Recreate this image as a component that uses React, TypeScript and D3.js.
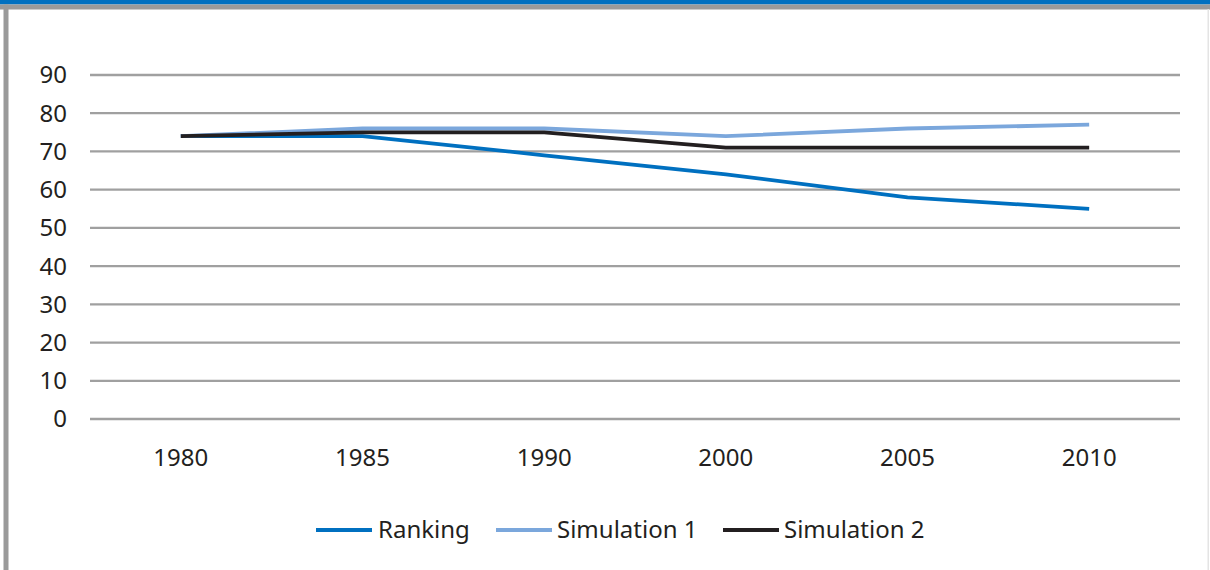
import React from "react";
import * as d3 from "d3";

const categories = ["1980", "1985", "1990", "2000", "2005", "2010"];
const ranking = [74, 74, 69, 64, 58, 55];
const simulation1 = [74, 76, 76, 74, 76, 77];
const simulation2 = [74, 75, 75, 71, 71, 71];
const yTicks = [0, 10, 20, 30, 40, 50, 60, 70, 80, 90];

const seriesList = [
  { name: "Ranking", values: ranking, color: "#0070c0" },
  { name: "Simulation 1", values: simulation1, color: "#7ba7dc" },
  { name: "Simulation 2", values: simulation2, color: "#231f20" },
];

const W = 1210;
const H = 570;
const font = "'Noto Sans', 'Open Sans', sans-serif";

export default function App() {
  const x = d3.scaleBand<string>().domain(categories).range([90, 1180]);
  const y = d3.scaleLinear().domain([0, 90]).range([419, 75]);
  const line = d3
    .line<number>()
    .x((_, i) => (x(categories[i]) as number) + x.bandwidth() / 2)
    .y((v) => y(v));

  const legendItems = [
    { lx: 316, tx: 378 },
    { lx: 496, tx: 557 },
    { lx: 723, tx: 784 },
  ];
  const legendY = 530;

  return (
    <svg
      width={W}
      height={H}
      style={{ position: "absolute", left: 0, top: 0, display: "block" }}
    >
      <rect x={0} y={0} width={W} height={H} fill="#ffffff" />
      <rect x={0} y={0} width={W} height={4.5} fill="#0070c0" />
      <rect x={0} y={4.5} width={W} height={5} fill="#9a9a9a" />
      <rect x={3.5} y={4.5} width={5} height={H} fill="#9a9a9a" />
      <rect x={1207.5} y={9} width={1.5} height={H} fill="#e4e4e4" />

      {yTicks.map((t) => (
        <g key={t}>
          <line
            x1={90}
            x2={1180}
            y1={y(t)}
            y2={y(t)}
            stroke="#a0a0a0"
            strokeWidth={2.3}
          />
          <text
            x={67}
            y={y(t)}
            dy="0.35em"
            textAnchor="end"
            fontFamily={font}
            fontSize={24}
            fill="#231f20"
          >
            {t}
          </text>
        </g>
      ))}

      {categories.map((c) => (
        <text
          key={c}
          x={(x(c) as number) + x.bandwidth() / 2}
          y={458}
          dy="0.35em"
          textAnchor="middle"
          fontFamily={font}
          fontSize={24}
          fill="#231f20"
        >
          {c}
        </text>
      ))}

      {seriesList.map((s) => (
        <path
          key={s.name}
          d={line(s.values) || ""}
          fill="none"
          stroke={s.color}
          strokeWidth={3.8}
          strokeLinejoin="round"
        />
      ))}

      {seriesList.map((s, i) => (
        <g key={s.name}>
          <line
            x1={legendItems[i].lx}
            x2={legendItems[i].lx + 56}
            y1={legendY}
            y2={legendY}
            stroke={s.color}
            strokeWidth={3.8}
          />
          <text
            x={legendItems[i].tx}
            y={legendY}
            dy="0.35em"
            fontFamily={font}
            fontSize={24}
            fill="#231f20"
          >
            {s.name}
          </text>
        </g>
      ))}
    </svg>
  );
}
